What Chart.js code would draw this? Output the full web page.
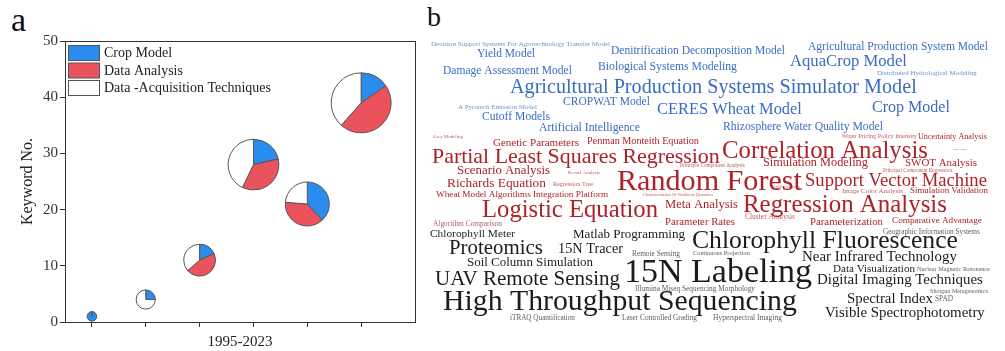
<!DOCTYPE html>
<html>
<head>
<meta charset="utf-8">
<script src="https://cdn.jsdelivr.net/npm/chart.js@4.4.0/dist/chart.umd.min.js"></script>
<style>
  html, body { margin: 0; padding: 0; background: #fff; }
  body { width: 1005px; height: 351px; position: relative; overflow: hidden; font-family: "Liberation Serif", serif; }
  .panel { position: absolute; top: 0; height: 351px; }
  #boxA { left: 0; width: 425px; }
  #boxB { left: 425px; width: 580px; }
  .tag { position: absolute; line-height: 1; color: #111; }
</style>
</head>
<body>
<div class="tag" style="left:11px; top:3px; font-size:34px;">a</div>
<div class="tag" style="left:427px; top:3px; font-size:28px;">b</div>
<div class="panel" id="boxA"><canvas id="pieChart"></canvas></div>
<div class="panel" id="boxB"><canvas id="cloudChart"></canvas></div>
<script>
// ---- panel a data: keyword counts per period (1995-2023) ----
var periodIndex = [0, 1, 2, 3, 4, 5];
var cropModel = [1, 1, 2, 6, 8, 6];
var dataAnalysis = [0, 0, 5, 10, 8, 18];
var dataAcquisition = [0, 3, 4, 12, 5, 15];
var seriesNames = ['Crop Model', 'Data Analysis', 'Data -Acquisition Techniques'];
var seriesColors = ['#2b8cf0', '#ea535b', '#ffffff'];
var yTicks = [0, 10, 20, 30, 40, 50];

// ---- panel b data: keywords and the field each belongs to ----
var keywords = [
  'Decision Support Systems For Agrotechnology Transfer Model', 'Yield Model',
  'Denitrification Decomposition Model', 'Agricultural Production System Model',
  'Damage Assessment Model', 'Biological Systems Modeling', 'AquaCrop Model',
  'Distributed Hydrological Modeling', 'Agricultural Production Systems Simulator Model',
  'A Pyrotech Emission Model', 'CROPWAT Model', 'CERES Wheat Model', 'Crop Model',
  'Cutoff Models', 'Artificial Intelligence', 'Rhizosphere Water Quality Model',

  'Grey Modeling', 'Genetic Parameters', 'Penman Monteith Equation',
  'Water Pricing Policy Intensity', 'Uncertainty Analysis',
  'Partial Least Squares Regression', 'Correlation Analysis', 'Input Output',
  'Scenario Analysis', 'Kernel Analysis', 'Principle Component Analysis',
  'Simulation Modeling', 'SWOT Analysis', 'Principal Component Regression',
  'Random Forest', 'Support Vector Machine', 'Richards Equation', 'Regression Tree',
  'Wheat Model Algorithms Integration Platform', 'Characterization Of Nonlinear Dynamics',
  'Algorithm Integration', 'Image Color Analysis', 'Simulation Validation',
  'Regression Analysis', 'Logistic Equation', 'Meta Analysis', 'Parameter Rates',
  'Cluster Analysis', 'Parameterization', 'Comparative Advantage', 'Algorithm Comparison',

  'Chlorophyll Meter', 'Matlab Programming', 'Chlorophyll Fluorescence',
  'Geographic Information Systems', 'Proteomics', '15N Tracer', 'Remote Sensing',
  'Continuous Projection', 'Near Infrared Technology', 'Soil Column Simulation',
  'UAV Remote Sensing', '15N Labeling', 'Data Visualization', 'Nuclear Magnetic Resonance',
  'Digital Imaging Techniques', 'Illumina Miseq Sequencing Morphology',
  'Shotgun Metagenomics', 'High Throughput Sequencing', 'Spectral Index', 'SPAD',
  'Visible Spectrophotometry', 'iTRAQ Quantification', 'Laser Controlled Grading',
  'Hyperspectral Imaging'
];
var keywordField = [];
for (var k = 0; k < keywords.length; k++) {
  keywordField.push(k < 16 ? 'model' : (k < 47 ? 'analysis' : 'technique'));
}

// word cloud layout: [left, right, middle] in page pixels
var cloudLayout = [
  [431, 610, 44], [477, 535, 54], [611, 785, 51], [808, 988, 47], [443, 572, 71],
  [598, 737, 67], [790, 907, 62], [877, 977, 73], [510, 917, 88], [458, 537, 107],
  [563, 650, 102], [657, 802, 110], [872, 950, 108], [482, 550, 117], [539, 640, 128],
  [723, 883, 127],
  [433, 463, 137], [493, 579, 143], [587, 699, 141], [842, 917, 136], [918, 987, 137],
  [432, 720, 157], [722, 928, 151], [953, 967, 149], [457, 550, 171], [568, 600, 173],
  [680, 745, 166], [763, 868, 163], [905, 977, 163], [883, 952, 171], [617, 802, 182],
  [805, 987, 181], [447, 546, 183], [553, 593, 184], [436, 608, 195], [643, 713, 195],
  [772, 800, 187], [842, 903, 191], [910, 988, 191], [743, 947, 205], [482, 658, 211],
  [665, 738, 205], [665, 735, 222], [745, 795, 217], [810, 883, 222], [892, 982, 221],
  [433, 502, 224],
  [430, 515, 234], [573, 685, 235], [692, 958, 241], [883, 980, 232], [449, 543, 249],
  [558, 623, 249], [632, 680, 254], [693, 750, 253], [802, 957, 257], [467, 593, 263],
  [435, 620, 279], [624, 812, 273], [833, 915, 269], [917, 990, 269], [817, 983, 280],
  [635, 755, 289], [930, 988, 291], [443, 797, 302], [847, 933, 299], [935, 953, 299],
  [825, 985, 313], [510, 575, 318], [622, 697, 318], [713, 782, 318]
];
var fieldColors = { model: '#3a6dc2', analysis: '#ae2229', technique: '#1c1c1c' };

var serif = '"Liberation Serif", "Times New Roman", serif';

// ---------------- panel a ----------------
var totals = periodIndex.map(function (i) {
  return cropModel[i] + dataAnalysis[i] + dataAcquisition[i];
});

var piePlugin = {
  id: 'pies',
  afterDatasetsDraw: function (chart) {
    var ctx = chart.ctx;
    var meta = chart.getDatasetMeta(0);
    meta.data.forEach(function (pt, i) {
      var parts = [cropModel[i], dataAnalysis[i], dataAcquisition[i]];
      var r = chart.data.datasets[0].data[i].r;
      var start = -Math.PI / 2;
      ctx.save();
      ctx.lineWidth = 1;
      ctx.strokeStyle = '#555';
      parts.forEach(function (v, j) {
        if (v <= 0) return;
        var end = start + v / totals[i] * Math.PI * 2;
        ctx.beginPath();
        ctx.moveTo(pt.x, pt.y);
        ctx.arc(pt.x, pt.y, r, start, end);
        ctx.closePath();
        ctx.fillStyle = seriesColors[j];
        ctx.fill();
        ctx.stroke();
        start = end;
      });
      ctx.restore();
    });
  },
  afterDraw: function (chart) {
    var ctx = chart.ctx;
    var a = chart.chartArea;
    ctx.save();
    ctx.strokeStyle = '#333';
    ctx.lineWidth = 1;
    ctx.strokeRect(a.left + 0.5, a.top + 0.5, a.right - a.left, a.bottom - a.top);
    // legend in the top-left corner of the plot
    ctx.font = '14px ' + serif;
    ctx.textBaseline = 'middle';
    for (var j = 0; j < seriesNames.length; j++) {
      var y = a.top + 4 + j * 17.5;
      ctx.fillStyle = seriesColors[j];
      ctx.fillRect(a.left + 3.5, y + 0.5, 31, 15);
      ctx.strokeStyle = '#555';
      ctx.strokeRect(a.left + 3.5, y + 0.5, 31, 15);
      ctx.fillStyle = '#222';
      ctx.fillText(seriesNames[j], a.left + 39, y + 8.5);
    }
    ctx.restore();
  }
};

var ctxA = document.getElementById('pieChart').getContext('2d');
var pieChart = new Chart(ctxA, {
  type: 'bubble',
  data: {
    datasets: [{
      label: 'Keywords',
      data: periodIndex.map(function (i) {
        return { x: i, y: totals[i], r: 4.8 * Math.sqrt(totals[i]) };
      }),
      backgroundColor: 'rgba(0,0,0,0)',
      borderColor: 'rgba(0,0,0,0)',
      borderWidth: 0
    }]
  },
  options: {
    responsive: true,
    maintainAspectRatio: false,
    animation: false,
    events: [],
    layout: { autoPadding: false, padding: { top: 41, right: 10, left: 0, bottom: 0 } },
    plugins: { legend: { display: false }, tooltip: { enabled: false } },
    scales: {
      x: {
        type: 'linear',
        min: -0.5,
        max: 6,
        afterBuildTicks: function (scale) {
          scale.ticks = periodIndex.map(function (v) { return { value: v }; });
        },
        afterFit: function (scale) { scale.height = 29; },
        ticks: { display: true, callback: function () { return ''; } },
        grid: { drawOnChartArea: false, tickLength: 5, color: '#333' },
        border: { color: '#333' },
        title: {
          display: true,
          text: '1995-2023',
          color: '#222',
          font: { family: serif, size: 15, lineHeight: 1 },
          padding: { top: 0, bottom: 1 }
        }
      },
      y: {
        min: 0,
        max: 50,
        afterBuildTicks: function (scale) {
          scale.ticks = yTicks.map(function (v) { return { value: v }; });
        },
        afterFit: function (scale) { scale.width = 65; },
        ticks: { color: '#333', padding: 2, font: { family: serif, size: 15 } },
        grid: { drawOnChartArea: false, tickLength: 5, color: '#333' },
        border: { color: '#333' },
        title: {
          display: true,
          text: 'Keyword No.',
          color: '#222',
          font: { family: serif, size: 16, lineHeight: 1 },
          padding: { top: 20, bottom: 0 }
        }
      }
    }
  },
  plugins: [piePlugin]
});

// ---------------- panel b ----------------
var cloudPlugin = {
  id: 'cloud',
  afterDatasetsDraw: function (chart) {
    var ctx = chart.ctx;
    var meta = chart.getDatasetMeta(0);
    var xs = chart.scales.x;
    ctx.save();
    ctx.textBaseline = 'middle';
    ctx.textAlign = 'left';
    meta.data.forEach(function (pt, i) {
      var text = keywords[i];
      var target = xs.getPixelForValue(cloudLayout[i][1]) - pt.x;
      ctx.font = '20px ' + serif;
      var size = 20 * target / ctx.measureText(text).width;
      ctx.font = size.toFixed(2) + 'px ' + serif;
      ctx.fillStyle = fieldColors[keywordField[i]];
      ctx.globalAlpha = size < 8 ? 0.75 : 1;
      ctx.fillText(text, pt.x, pt.y);
    });
    ctx.restore();
  }
};

var ctxB = document.getElementById('cloudChart').getContext('2d');
var cloudChart = new Chart(ctxB, {
  type: 'scatter',
  data: {
    datasets: [{
      label: 'Keywords',
      data: cloudLayout.map(function (p) { return { x: p[0], y: p[2] }; }),
      pointRadius: 0
    }]
  },
  options: {
    responsive: true,
    maintainAspectRatio: false,
    animation: false,
    events: [],
    layout: { autoPadding: false, padding: 0 },
    plugins: { legend: { display: false }, tooltip: { enabled: false } },
    scales: {
      x: { type: 'linear', min: 425, max: 1005, display: false },
      y: { type: 'linear', min: 0, max: 351, reverse: true, display: false }
    }
  },
  plugins: [cloudPlugin]
});
</script>
</body>
</html>
